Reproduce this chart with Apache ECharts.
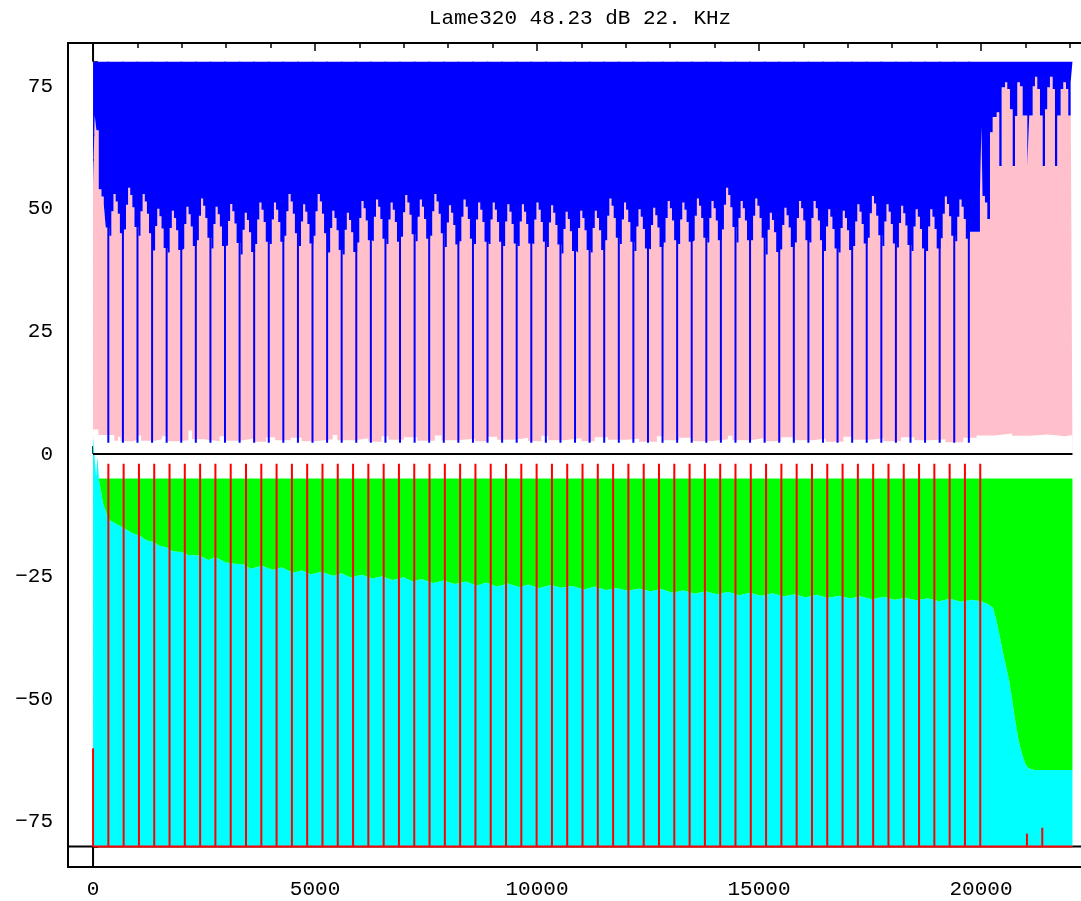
<!DOCTYPE html>
<html>
<head>
<meta charset="utf-8">
<title>Lame320</title>
<script src="https://cdn.jsdelivr.net/npm/echarts@6/dist/echarts.min.js"></script>
<style>
html, body { margin: 0; padding: 0; background: #fff; }
#chart { width: 1081px; height: 901px; }
</style>
</head>
<body>
<div id="chart"></div>
<script>
const titleText = 'Lame320 48.23 dB 22. KHz';

// ticks
const xMajorTicks = [0, 5000, 10000, 15000, 20000];
const xMinorTicks = [0, 1000, 2000, 3000, 4000, 5000, 6000, 7000, 8000, 9000, 10000, 11000,
    12000, 13000, 14000, 15000, 16000, 17000, 18000, 19000, 20000, 21000, 22000];
const yMajorTicks = [-75, -50, -25, 0, 25, 50, 75];
const yMinorTicks = [-80, -75, -70, -65, -60, -55, -50, -45, -40, -35, -30, -25, -20, -15, -10, -5,
    0, 5, 10, 15, 20, 25, 30, 35, 40, 45, 50, 55, 60, 65, 70, 75, 80];

// upper part: spectrum top (pink / blue edge)
const band0 = [[0, 55], [38, 69], [76, 66], [128, 54], [189, 52.5], [241, 51], [286, 46.2]];
const dipFreq = [344, 673, 1001, 1330, 1658, 1987, 2315, 2644, 2972, 3301,
    3629, 3958, 4286, 4615, 4943, 5272, 5600, 5929, 6257, 6586,
    6914, 7243, 7571, 7900, 8228, 8557, 8885, 9214, 9542, 9871,
    10199, 10528, 10856, 11185, 11513, 11842, 12170, 12499, 12827, 13156,
    13484, 13813, 14141, 14470, 14798, 15127, 15455, 15784, 16112, 16441,
    16769, 17098, 17426, 17755, 18083, 18412, 18740, 19069, 19397, 19726];
const dipLevel = 2.3;
const bandPeak = [53.0, 54.3, 53.0, 50.0, 49.6, 50.4, 52.1, 50.4, 51.0, 49.2,
    51.3, 51.3, 53.0, 50.9, 53.0, 49.6, 49.2, 51.6, 51.9, 51.3,
    52.8, 51.9, 53.0, 50.7, 51.9, 51.3, 51.3, 50.9, 50.9, 51.3,
    50.7, 49.4, 49.6, 49.6, 52.1, 51.3, 49.9, 50.2, 51.6, 51.3,
    52.1, 51.6, 54.3, 51.6, 52.1, 49.2, 50.2, 51.6, 51.6, 49.9,
    49.6, 50.9, 52.6, 50.9, 50.6, 49.9, 49.9, 52.5, 51.9];
const humpShape = [-8.5, -3.5, 0, -1.5, -4, -8];
const tailCurve = [[19747, 45.3], [19976, 53.4], [20010, 66.7], [20033, 52.6], [20089, 51.3],
    [20141, 47.9], [20202, 65.6], [20263, 68.7], [20353, 69.7], [20411, 58.7], [20465, 74.8],
    [20540, 75.8], [20591, 74.4], [20652, 70.3], [20713, 58.7], [20765, 68.9], [20817, 75.8],
    [20877, 75.0], [20938, 69.0], [21042, 58.7], [21087, 69.0], [21164, 75.0], [21215, 76.9],
    [21267, 74.4], [21328, 69.0], [21389, 58.7], [21441, 70.3], [21492, 74.8], [21553, 76.9],
    [21614, 74.4], [21666, 58.7], [21717, 69.0], [21794, 74.4], [21853, 75.8], [21914, 74.4],
    [21965, 69.0], [22019, 75.8], [22060, 75.8]];

// upper part: noise floor (white under pink)
const noiseFloor = [[0, 5.0], [120, 3.9], [480, 2.7], [560, 3.5], [620, 2.6], [900, 2.9], [1000, 3.8],
    [1080, 2.7], [1400, 3.0], [1550, 3.6], [1650, 2.6], [1950, 2.8], [2150, 4.8], [2230, 3.0],
    [2500, 2.6], [2850, 3.6], [2950, 2.7], [3300, 3.1], [3600, 2.5], [3900, 3.4], [4100, 2.8],
    [4450, 3.3], [4700, 2.6], [5000, 3.0], [5400, 3.9], [5500, 2.8], [5900, 3.2], [6200, 2.5],
    [6500, 3.6], [6650, 2.9], [7000, 3.4], [7300, 2.7], [7700, 3.8], [7850, 2.8], [8200, 3.1],
    [8600, 2.6], [8900, 3.5], [9100, 2.9], [9500, 3.3], [9800, 2.6], [10100, 3.7], [10250, 2.8],
    [10600, 3.2], [11000, 2.6], [11300, 3.4], [11600, 2.9], [12000, 3.1], [12300, 2.5], [12700, 3.6],
    [12850, 2.8], [13200, 3.3], [13500, 2.6], [13900, 3.0], [14300, 3.7], [14400, 2.8], [14800, 3.2],
    [15100, 2.6], [15500, 3.4], [15800, 2.8], [16200, 3.1], [16500, 2.5], [16900, 3.5], [17100, 2.9],
    [17500, 3.2], [17800, 2.6], [18200, 3.4], [18500, 2.8], [18900, 3.0], [19200, 2.4], [19600, 3.3],
    [19900, 3.8], [20300, 4.2], [20700, 3.7], [21100, 4.0], [21500, 3.6], [21900, 3.9], [22060, 3.9]];

// lower part: cyan / green edge
const cyanEdge = [[0, 3.5], [70, -4.7], [100, -0.5], [135, -5.3], [225, -10.0], [300, -12.0],
    [375, -13.5], [500, -14.1], [600, -14.6], [750, -15.4], [900, -16.2], [1050, -16.6], [1200, -17.6],
    [1350, -17.9], [1500, -18.7], [1650, -19.0], [1800, -19.8], [2000, -20.0], [2150, -20.6],
    [2400, -20.7], [2600, -21.6], [2750, -21.0], [3000, -22.1], [3150, -22.3], [3400, -22.5],
    [3550, -23.4], [3800, -22.8], [4050, -23.6], [4250, -23.1], [4500, -24.2], [4700, -23.7],
    [4900, -24.5], [5150, -24.0], [5400, -24.8], [5600, -24.3], [5800, -25.2], [6050, -24.6],
    [6300, -25.4], [6500, -24.9], [6750, -25.7], [7000, -25.1], [7200, -26.0], [7400, -25.5],
    [7650, -26.3], [7900, -25.8], [8150, -26.5], [8400, -26.0], [8650, -26.8], [8850, -26.2],
    [9100, -27.0], [9350, -26.4], [9600, -27.1], [9800, -26.6], [10050, -27.3], [10300, -26.7],
    [10550, -27.2], [10800, -26.9], [11050, -27.6], [11300, -27.0], [11550, -27.7], [11800, -27.3],
    [12050, -27.9], [12300, -27.4], [12550, -28.0], [12800, -27.5], [13050, -28.3], [13300, -27.8],
    [13550, -28.5], [13800, -28.0], [14050, -28.6], [14300, -28.1], [14550, -28.8], [14800, -28.3],
    [15050, -28.9], [15300, -28.4], [15550, -29.0], [15800, -28.6], [16050, -29.2], [16300, -28.7],
    [16550, -29.3], [16800, -28.9], [17050, -29.4], [17300, -29.0], [17550, -29.6], [17800, -29.1],
    [18050, -29.7], [18300, -29.3], [18550, -29.8], [18800, -29.4], [19050, -30.0], [19300, -29.5],
    [19550, -30.1], [19800, -29.7], [20000, -30.0], [20150, -30.6], [20270, -31.3], [20350, -34.0],
    [20430, -37.5], [20500, -40.7], [20570, -43.5], [20630, -46.0], [20700, -50.0], [20770, -54.4],
    [20850, -58.5], [20920, -61.0], [20990, -63.0], [21060, -64.0], [21200, -64.4], [22060, -64.4]];
const greenTop = -5;
const greenStart = 135;

// red marks
const redFreq = [345, 689, 1034, 1378, 1723, 2067, 2412, 2756, 3101, 3445,
    3790, 4134, 4479, 4823, 5168, 5512, 5857, 6201, 6546, 6890,
    7235, 7579, 7924, 8268, 8613, 8957, 9302, 9646, 9991, 10336,
    10680, 11025, 11369, 11714, 12058, 12403, 12747, 13092, 13437, 13781,
    14126, 14470, 14815, 15159, 15504, 15848, 16193, 16537, 16882, 17227,
    17571, 17916, 18260, 18605, 18949, 19294, 19638, 19983];
const redTop = -2;
const redExtra = [[0, -60], [21035, -77.4], [21380, -76.2]];
const redFloor = -80;
const dataEnd = 22060;

const xRange = [-564, 22500];
const yRange = [-84.2, 83.8];
const FONT = '"Liberation Mono", "DejaVu Sans Mono", monospace';

// build step curve of the top edge, dips are drawn as lines later
const topCurve = band0.slice();
bandPeak.forEach((peak, i) => {
    const from = dipFreq[i] + 21;
    const w = (dipFreq[i + 1] - 21 - from) / humpShape.length;
    humpShape.forEach((d, j) => topCurve.push([from + j * w, peak + d]));
});
tailCurve.forEach(p => topCurve.push(p));

const dips = dipFreq.map(f => [f, dipLevel]);
const redLines = redFreq.map(f => [f, redTop]).concat(redExtra);

const minus = v => String(v).replace('-', '\u2212');

const makeX = (position, ticks, len, label) => ({
    type: 'value',
    position,
    min: xRange[0],
    max: xRange[1],
    axisLine: {show: false},
    splitLine: {show: false},
    axisTick: {show: true, inside: true, length: len, customValues: ticks,
        lineStyle: {color: '#000', width: 1.5}},
    axisLabel: label
        ? {show: true, customValues: ticks, margin: 12, color: '#000', fontFamily: FONT, fontSize: 21,
            formatter: v => String(v)}
        : {show: false}
});

const makeY = (ticks, len, label) => ({
    type: 'value',
    position: 'left',
    min: yRange[0],
    max: yRange[1],
    axisLine: {show: false},
    splitLine: {show: false},
    axisTick: {show: true, inside: true, length: len, customValues: ticks,
        lineStyle: {color: '#000', width: 1.5}},
    axisLabel: label
        ? {show: true, customValues: ticks, margin: 15, color: '#000', fontFamily: FONT, fontSize: 21,
            formatter: minus}
        : {show: false}
});

const plain = (name, data, color, width) => ({
    name,
    type: 'line',
    data,
    z: 4,
    symbol: 'none',
    silent: true,
    lineStyle: {color, width}
});

const area = (name, data, color, origin, step) => ({
    name,
    type: 'line',
    data,
    step,
    z: 2,
    symbol: 'none',
    silent: true,
    lineStyle: {width: 0},
    areaStyle: {color, opacity: 1, origin}
});

// vertical sticks from a base value to each data value
const sticks = (name, data, base, color, width) => ({
    name,
    type: 'custom',
    z: 3,
    silent: true,
    data,
    renderItem: (params, api) => {
        const p0 = api.coord([api.value(0), base]);
        const p1 = api.coord([api.value(0), api.value(1)]);
        return {
            type: 'line',
            shape: {x1: p0[0], y1: p0[1], x2: p1[0], y2: p1[1]},
            style: {stroke: color, lineWidth: width}
        };
    }
});

const chart = echarts.init(document.getElementById('chart'));

chart.setOption({
    animation: false,
    backgroundColor: '#fff',
    graphic: [{
        type: 'text',
        x: 580,
        y: 18,
        style: {
            text: titleText,
            font: '21px ' + FONT,
            fill: '#000',
            align: 'center',
            verticalAlign: 'middle',
            textAlign: 'center',
            textVerticalAlign: 'middle'
        }
    }],
    grid: {
        left: 68,
        top: 43,
        width: 1024,
        height: 824,
        outerBoundsMode: 'none',
        containLabel: false,
        show: true,
        borderColor: '#000',
        borderWidth: 2,
        backgroundColor: 'transparent'
    },
    xAxis: [
        makeX('bottom', xMajorTicks, 8, true),
        makeX('bottom', xMinorTicks, 5, false),
        makeX('top', xMajorTicks, 8, false),
        makeX('top', xMinorTicks, 5, false)
    ],
    yAxis: [
        makeY(yMajorTicks, 8, true),
        makeY(yMinorTicks, 5, false)
    ],
    series: [
        Object.assign(plain('axisLow', [[0, yRange[0]], [0, redFloor]], '#000', 2), {z: 1}),
        Object.assign(plain('axisHigh', [[0, 80], [0, yRange[1]]], '#000', 2), {z: 1}),
        Object.assign(plain('axisX', [[xRange[0], redFloor], [xRange[1], redFloor]], '#000', 2), {z: 1}),
        area('pink', topCurve, '#ffc0cb', 0, 'end'),
        area('noise', noiseFloor, '#ffffff', 0, 'end'),
        area('blue', topCurve, '#0000ff', 80, 'end'),
        sticks('dips', dips, 80, '#0000ff', 2),
        Object.assign(plain('zero', [[0, 0], [dataEnd, 0]], '#000', 2), {z: 2}),
        area('cyan', cyanEdge, '#00ffff', redFloor, false),
        area('green', cyanEdge.filter(p => p[0] >= greenStart), '#00ff00', greenTop, false),
        sticks('red', redLines, redFloor, '#ff0000', 2),
        plain('redBase', [[0, redFloor], [dataEnd, redFloor]], '#ff0000', 2)
    ]
});
</script>
</body>
</html>
